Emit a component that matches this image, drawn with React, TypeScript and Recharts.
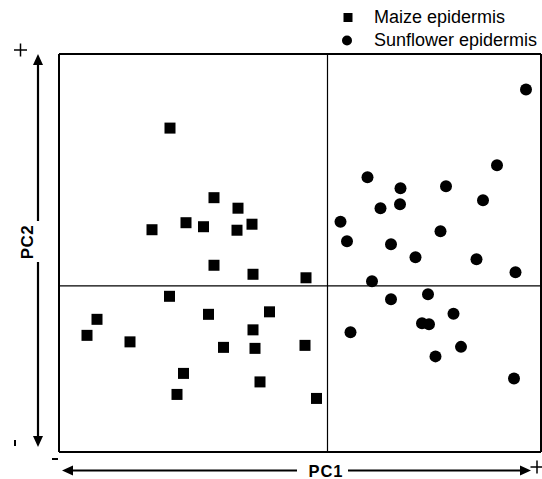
import React from "react";
import { ScatterChart, Scatter, XAxis, YAxis, ReferenceLine } from "recharts";

// PC scores
const maizePC1 = [-3.15, -2.27, -1.79, -2.83, -2.48, -3.51, -1.81, -1.51, -2.27, -1.49, -0.43, -3.16, -4.61, -4.81, -3.95, -2.38, -1.16, -1.49, -2.08, -1.45, -0.45, -2.88, -3.01, -1.35, -0.22];
const maizePC2 = [3.15, 1.76, 1.55, 1.26, 1.18, 1.12, 1.11, 1.23, 0.41, 0.23, 0.16, -0.21, -0.67, -0.99, -1.12, -0.57, -0.52, -0.88, -1.23, -1.25, -1.19, -1.75, -2.17, -1.92, -2.25];
const sunflowerPC1 = [3.97, 3.39, 0.8, 1.46, 2.37, 1.06, 1.45, 3.11, 0.26, 0.39, 1.27, 2.26, 1.76, 2.98, 3.76, 0.89, 1.27, 2.01, 2.52, 1.89, 2.03, 0.46, 2.67, 2.16, 3.73];
const sunflowerPC2 = [3.92, 2.41, 2.17, 1.95, 1.99, 1.55, 1.63, 1.71, 1.28, 0.89, 0.83, 1.09, 0.57, 0.53, 0.27, 0.09, -0.27, -0.17, -0.56, -0.75, -0.77, -0.93, -1.22, -1.41, -1.85];
const seriesNames = ["Maize epidermis", "Sunflower epidermis"];
const xDomain: [number, number] = [-5.37, 4.27];
const yDomain: [number, number] = [-3.32, 4.63];

const maize = maizePC1.map((x, i) => ({ x, y: maizePC2[i] }));
const sunflower = sunflowerPC1.map((x, i) => ({ x, y: sunflowerPC2[i] }));

const font = "'Liberation Sans', Arial, sans-serif";

const SquareDot = (props: any) => (
  <rect x={props.cx - 5.5} y={props.cy - 5.5} width={11} height={11} fill="#000" />
);
const RoundDot = (props: any) => <circle cx={props.cx} cy={props.cy} r={6} fill="#000" />;

// legend, top right above the plot
const LegendBox = () => (
  <div style={{ position: "absolute", left: 340, top: 6, fontFamily: font, fontSize: 18, lineHeight: "22.7px", color: "#000" }}>
    {seriesNames.map((name, i) => (
      <div key={name} style={{ display: "flex", alignItems: "center" }}>
        <svg width={34} height={22}>
          {i === 0 ? <rect x={3.5} y={7} width={9} height={9} fill="#000" /> : <circle cx={7} cy={11.5} r={5} fill="#000" />}
        </svg>
        <span>{name}</span>
      </div>
    ))}
  </div>
);

const Plus = ({ x, y }: { x: number; y: number }) => (
  <g stroke="#000" strokeWidth={1.5}>
    <line x1={x - 6.5} y1={y} x2={x + 6.5} y2={y} />
    <line x1={x} y1={y - 6.5} x2={x} y2={y + 6.5} />
  </g>
);

const App: React.FC = () => {
  return (
    <div style={{ position: "absolute", left: 0, top: 0, width: 542, height: 479, background: "#fff" }}>
      <ScatterChart width={542} height={479} margin={{ top: 54, right: 1, bottom: 27, left: 59 }}>
        <XAxis type="number" dataKey="x" domain={xDomain} hide allowDataOverflow />
        <YAxis type="number" dataKey="y" domain={yDomain} hide allowDataOverflow width={0} />
        <ReferenceLine x={0} stroke="#000" strokeWidth={1.2} />
        <ReferenceLine y={0} stroke="#000" strokeWidth={1.2} />
        <ReferenceLine x={xDomain[0]} stroke="#000" strokeWidth={2} />
        <ReferenceLine x={xDomain[1]} stroke="#000" strokeWidth={2} />
        <ReferenceLine y={yDomain[0]} stroke="#000" strokeWidth={2} />
        <ReferenceLine y={yDomain[1]} stroke="#000" strokeWidth={2} />
        <Scatter name={seriesNames[0]} data={maize} shape={SquareDot} isAnimationActive={false} />
        <Scatter name={seriesNames[1]} data={sunflower} shape={RoundDot} isAnimationActive={false} />
      </ScatterChart>
      <LegendBox />
      <svg width={542} height={479} style={{ position: "absolute", left: 0, top: 0, pointerEvents: "none" }}>
        <g fill="#000" stroke="#000" fontFamily={font}>
          {/* PC2 arrow */}
          <line x1={38} y1={64} x2={38} y2={221} strokeWidth={2.2} />
          <line x1={38} y1={262} x2={38} y2={437} strokeWidth={2.2} />
          <polygon points="33,65 43,65 38,54" stroke="none" />
          <polygon points="33,436 43,436 38,447" stroke="none" />
          <text x={27} y={242} transform="rotate(-90 27 242)" textAnchor="middle" dominantBaseline="central" fontSize={17} fontWeight="bold" letterSpacing={0.5} stroke="none">PC2</text>
          <Plus x={20.5} y={50} />
          <line x1={15} y1={440} x2={15} y2={446} strokeWidth={2} />
          {/* PC1 arrow */}
          <line x1={73} y1={470.5} x2={297} y2={470.5} strokeWidth={2.2} />
          <line x1={348} y1={470.5} x2={520} y2={470.5} strokeWidth={2.2} />
          <polygon points="73,465.5 73,475.5 62,470.5" stroke="none" />
          <polygon points="520,465.5 520,475.5 531,470.5" stroke="none" />
          <text x={326} y={476.5} textAnchor="middle" fontSize={16.5} fontWeight="bold" letterSpacing={1} stroke="none">PC1</text>
          <line x1={52} y1={459} x2={58} y2={459} strokeWidth={2} />
          <Plus x={537} y={467} />
        </g>
      </svg>
    </div>
  );
};

export default App;
